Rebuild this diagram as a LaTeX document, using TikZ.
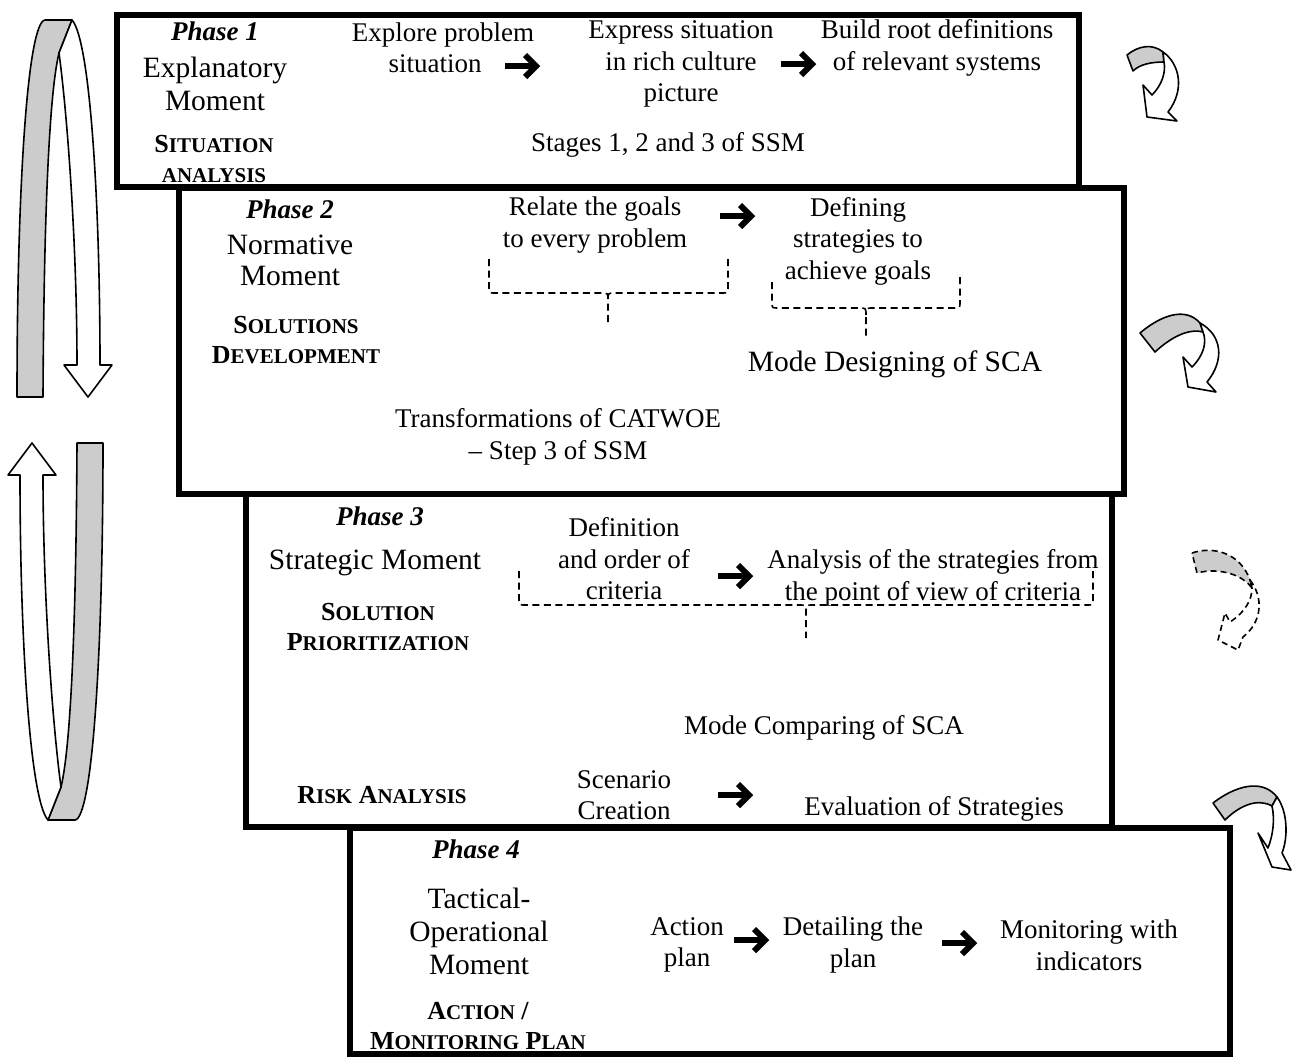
\documentclass[tikz,border=0pt]{standalone}
\usepackage{fontspec}
\setmainfont{Liberation Serif}
\newcommand\hsc[2]{#1{\fontsize{21}{21}\selectfont #2}}
\newcommand\smallsc[1]{{\fontsize{21}{21}\selectfont #1}}
\begin{document}
\begin{tikzpicture}[x=1pt,y=-1pt,
  txt/.style={align=center, inner sep=0pt, font=\fontsize{27}{31.5}\selectfont},
  big/.style={align=center, inner sep=0pt, font=\fontsize{29.5}{33}\selectfont},
  ph/.style={align=center, inner sep=0pt, font=\fontsize{27}{31.5}\selectfont\bfseries\itshape},
  hd/.style={align=center, inner sep=0pt, font=\fontsize{26}{29.5}\selectfont\bfseries},
  phasebox/.style={draw, line width=5.5pt},
  brace/.style={draw, line width=1.6pt, dash pattern=on 7pt off 4.5pt},
  hshaft/.style={line width=6pt},
  hhead/.style={line width=6pt, line join=miter, miter limit=10},
  ribgrey/.style={draw, line width=1.6pt, line join=round, fill=black!20},
  ribwhite/.style={draw, line width=1.6pt, line join=round, fill=white},
  dribgrey/.style={ribgrey, dash pattern=on 6pt off 4pt},
  dribwhite/.style={ribwhite, dash pattern=on 6pt off 4pt}
]
\useasboundingbox (0,0) rectangle (1293,1058);

% phase boxes
\draw[phasebox] (117,15) rectangle (1079,187);
\draw[phasebox] (179,188) rectangle (1124,494);
\draw[phasebox] (246,494) rectangle (1112,827);
\draw[phasebox] (350,828) rectangle (1230,1054);

% ---------- Box 1
\node[ph] (p1) at (215,31) {Phase 1};
\node[big] (m1) at (215,84) {Explanatory\\Moment};
\node[hd] (s1) at (214,159) {\hsc{S}{ITUATION}\\\smallsc{ANALYSIS}};
\node[txt] (e1) at (443,48) {Explore problem\\situation\hspace*{16pt}};
\node[txt] (x1) at (681,64) {Express situation\\in rich culture\\picture};
\node[txt] (b1) at (937,48) {Build root definitions\\of relevant systems};
\node[txt] (st1) at (668,145) {Stages 1, 2 and 3 of SSM};

% ---------- Box 2
\node[ph] (p2) at (290,209) {Phase 2};
\node[big, font=\fontsize{29.5}{31}\selectfont] (m2) at (290,260) {Normative\\Moment};
\node[hd] (s2) at (296,340) {\hsc{S}{OLUTIONS}\\\hsc{D}{EVELOPMENT}};
\node[txt] (g2) at (595,225) {Relate the goals\\to every problem};
\node[txt] (d2) at (858,241) {Defining\\strategies to\\achieve goals};
\node[big] (md2) at (895,364) {Mode Designing of SCA};
\node[txt] (tc2) at (558,437) {Transformations of CATWOE\\– Step 3 of SSM};

% ---------- Box 3
\node[ph] (p3) at (380,516) {Phase 3};
\node[big] (m3) at (375,563) {Strategic Moment};
\node[hd] (s3) at (378,627) {\hsc{S}{OLUTION}\\\hsc{P}{RIORITIZATION}};
\node[txt] (c3) at (624,559) {Definition\\and order of\\criteria};
\node[txt] (a3) at (933,578) {Analysis of the strategies from\\the point of view of criteria};
\node[txt] (mc3) at (824,728) {Mode Comparing of SCA};
\node[hd] (r3) at (382,795) {\hsc{R}{ISK} \hsc{A}{NALYSIS}};
\node[txt] (sc3) at (624,795) {Scenario\\Creation};
\node[txt] (ev3) at (934,809) {Evaluation of Strategies};

% ---------- Box 4
\node[ph] (p4) at (476,849) {Phase 4};
\node[big] (m4) at (479,931) {Tactical-\\Operational\\Moment};
\node[hd] (s4) at (478,1026) {\hsc{A}{CTION} /\\\hsc{M}{ONITORING} \hsc{P}{LAN}};
\node[txt] (ap4) at (687,945) {Action\\plan};
\node[txt] (dp4) at (853,945) {Detailing the\\plan};
\node[txt] (mw4) at (1089,945) {Monitoring with\\indicators};

% heavy arrows (shaft from s to e, chevron head ending at e)
\coordinate (r1s) at (505,66);  \coordinate (r1e) at (536,66);
\coordinate (r2s) at (781,64);  \coordinate (r2e) at (812,64);
\coordinate (r3s) at (720,216); \coordinate (r3e) at (751,216);
\coordinate (r4s) at (718,576); \coordinate (r4e) at (749,576);
\coordinate (r5s) at (718,795); \coordinate (r5e) at (749,795);
\coordinate (r6s) at (734,940); \coordinate (r6e) at (765,940);
\coordinate (r7s) at (942,943); \coordinate (r7e) at (973,943);
\foreach \i in {1,...,7} {
  \draw[hshaft] (r\i s) -- ([xshift=-3pt]r\i e);
  \draw[hhead] ([shift={(-11,-11)}]r\i e) -- (r\i e) -- ([shift={(-11,11)}]r\i e);
}

% dashed braces
\draw[brace] (489,259) -- (489,287) .. controls (489,293) .. (495,293) -- (601,293) .. controls (608,293) .. (608,300) -- (608,326);
\draw[brace] (728,259) -- (728,287) .. controls (728,293) .. (722,293) -- (615,293) .. controls (608,293) .. (608,300);
\draw[brace] (772,282) -- (772,302) .. controls (772,308) .. (778,308) -- (859,308) .. controls (866,308) .. (866,315) -- (866,336);
\draw[brace] (960,277) -- (960,302) .. controls (960,308) .. (954,308) -- (873,308) .. controls (866,308) .. (866,315);
\draw[brace] (519,571) -- (519,599) .. controls (519,605) .. (525,605) -- (799,605) .. controls (806,605) .. (806,612) -- (806,638);
\draw[brace] (1093,571) -- (1093,599) .. controls (1093,605) .. (1087,605) -- (813,605) .. controls (806,605) .. (806,612);

% left loop arrows (top: down, bottom: up)
\filldraw[ribgrey] (17,397) .. controls (17,180) and (28,22) .. (45,20) -- (72,20) -- (59,53) .. controls (50,90) and (44,200) .. (43,397) -- cycle;
\filldraw[ribwhite] (72,20) .. controls (90,40) and (100,200) .. (100,365) -- (112,365) -- (88,397) -- (64,365) -- (77,365) .. controls (77,250) and (68,120) .. (59,53) -- cycle;
\begin{scope}[rotate around={180:(60,420)}]
\filldraw[ribgrey] (17,397) .. controls (17,180) and (28,22) .. (45,20) -- (72,20) -- (59,53) .. controls (50,90) and (44,200) .. (43,397) -- cycle;
\filldraw[ribwhite] (72,20) .. controls (90,40) and (100,200) .. (100,365) -- (112,365) -- (88,397) -- (64,365) -- (77,365) .. controls (77,250) and (68,120) .. (59,53) -- cycle;
\end{scope}

% right curved arrows
\filldraw[ribgrey] (1127,55) .. controls (1138,46) and (1152,43) .. (1163,52) -- (1164,62) .. controls (1152,62) and (1140,64) .. (1133,71) -- cycle;
\filldraw[ribwhite] (1163,52) .. controls (1180,64) and (1185,90) .. (1168,112) -- (1177,121) -- (1147,117) -- (1143,85) -- (1152,95) .. controls (1162,85) and (1166,72) .. (1164,62) -- cycle;

\filldraw[ribgrey] (1140,333) .. controls (1160,316) and (1185,306) .. (1200,323) -- (1203,332) .. controls (1188,328) and (1170,338) .. (1155,352) -- cycle;
\filldraw[ribwhite] (1200,323) .. controls (1222,335) and (1225,360) .. (1207,382) -- (1216,392) -- (1188,387) -- (1183,357) -- (1192,367) .. controls (1204,355) and (1207,342) .. (1203,332) -- cycle;

\filldraw[dribgrey] (1192,553) .. controls (1212,546) and (1240,552) .. (1250,580) -- (1252,588) .. controls (1240,572) and (1215,568) .. (1197,573) -- cycle;
\filldraw[dribwhite] (1250,580) .. controls (1264,598) and (1262,622) .. (1243,637) -- (1238,650) -- (1218,640) -- (1225,613) -- (1230,622) .. controls (1245,612) and (1252,600) .. (1252,588) -- cycle;

\filldraw[ribgrey] (1213,803) .. controls (1235,786) and (1262,778) .. (1277,797) -- (1272,806) .. controls (1258,798) and (1240,805) .. (1225,820) -- cycle;
\filldraw[ribwhite] (1277,797) .. controls (1288,812) and (1288,838) .. (1282,853) -- (1291,870) -- (1272,867) -- (1258,833) -- (1268,848) .. controls (1273,835) and (1275,820) .. (1272,806) -- cycle;
\end{tikzpicture}
\end{document}
